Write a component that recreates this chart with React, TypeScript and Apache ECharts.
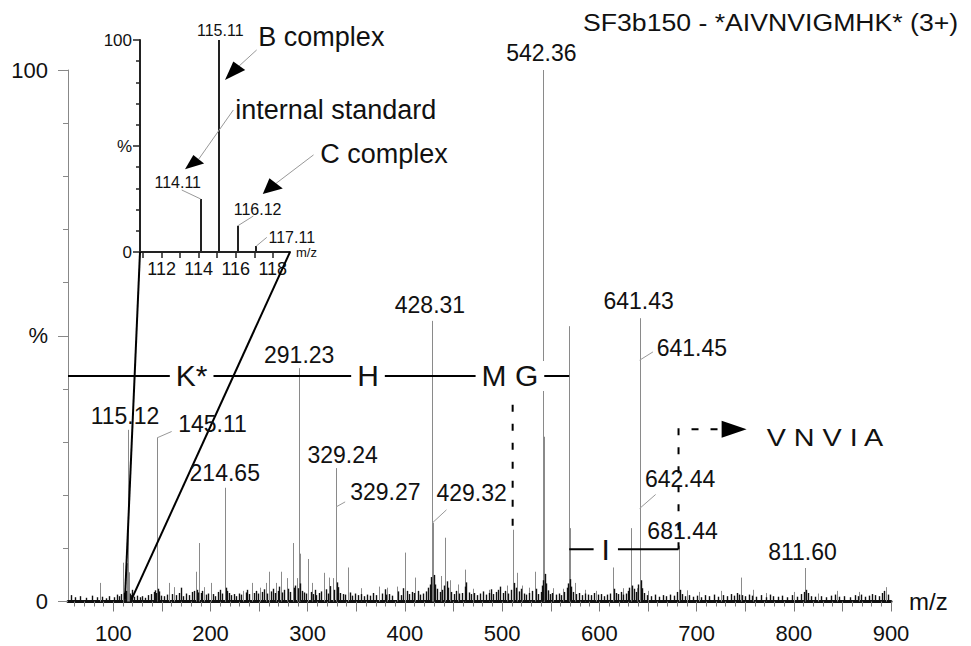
import React, { useEffect, useRef } from "react";
import * as echarts from "echarts";

const TITLE = "SF3b150 - *AIVNVIGMHK* (3+)";
const X_TICK_LABELS = [100, 200, 300, 400, 500, 600, 700, 800, 900];
const X_MID_TICKS = [150, 250, 350, 450, 550, 650, 750, 850];
const INSET_X_TICK_LABELS = [112, 114, 116, 118];
const INSET_X_TICKS = [111, 112, 113, 114, 115, 116, 117, 118];

// labelled fragment peaks [m/z, intensity %]
const labeledPeaks: [number, number][] = [
  [115.12, 32.3], [145.11, 30.8], [214.65, 21.4], [291.23, 43.9], [329.24, 25.1],
  [428.31, 52.8], [542.36, 100], [641.43, 53.3], [681.44, 10.5], [811.6, 6.3],
];

// other visible peaks [m/z, intensity %]
const otherPeaks: [number, number][] = [
  [86.4, 3.5], [110.3, 7.3], [114.11, 7.2], [116.12, 5.5], [157.6, 3.5], [162.7, 2.7],
  [185.0, 5.6], [188.5, 11], [193.3, 2.7], [200.5, 3.5], [215.2, 7.3], [233.7, 2.0],
  [242.3, 3.5], [250.9, 2.6], [256.7, 3.5], [260.5, 5.6], [267.4, 3.5], [272.2, 5.6],
  [278.4, 4.4], [284.5, 11], [289.3, 4.4], [291.6, 9], [300.6, 8], [304.0, 3.5],
  [317.0, 5.4], [322.0, 4.5], [326.3, 4.4], [341.7, 6.4], [355, 2.5], [373.6, 2.8],
  [382, 2.6], [391.5, 2.8], [400.0, 9.2], [410.3, 4.5], [428.9, 14.8], [437.4, 4.8],
  [441.5, 12], [446, 4], [455, 3.2], [461.8, 6], [470, 2.4], [486, 2.2], [505, 3],
  [510.8, 13.5], [515.0, 5.4], [520, 3], [528, 2.6], [533.8, 5.6], [542.7, 31],
  [543.1, 20], [552.6, 2.5], [563, 2.4], [569.0, 51.8], [569.4, 13.8], [575, 3.5],
  [585, 2.2], [596.5, 2], [613.7, 6.4], [624, 2.5], [632.8, 13.8], [638.4, 2.5],
  [642.1, 17.5], [650, 2], [690, 2.1], [702, 1.8], [725, 2], [745.3, 4.5], [758, 2.2],
  [771, 1.6], [800, 1.8], [825, 1.5], [844.0, 2], [867, 1.8], [894.8, 2.7],
];

// baseline noise [m/z, intensity %]
const noisePeaks: [number, number][] = [
  [57, 1.2], [61, 0.8], [66, 1.0], [72, 0.7], [78, 1.1], [83, 0.8], [88, 0.9], [92, 0.6],
  [96, 1.0], [101, 0.8], [104, 1.3], [106, 1.0], [108, 1.4], [111, 1.6], [112, 1.8],
  [113, 2.0], [117, 1.5], [118, 1.2], [119, 2.2], [121, 0.9], [124, 1.1], [127, 0.8],
  [130, 1.0], [133, 0.7], [136, 1.2], [139, 1.4], [142, 1.8], [143, 2.1], [144, 1.6],
  [146, 2.4], [147, 1.9], [149, 1.1], [152, 1.0], [155, 1.3], [160, 1.4], [165, 1.2],
  [168, 1.6], [170, 2.6], [172, 1.0], [175, 1.5], [178, 1.2], [181, 1.8], [183, 2.0],
  [186, 2.2], [187, 1.7], [190, 1.6], [191, 2.0], [195, 1.3], [197, 1.5], [203, 1.4],
  [205, 1.0], [208, 1.8], [210, 2.2], [212, 1.5], [216, 2.6], [217, 2.0], [219, 1.6],
  [221, 1.2], [224, 1.4], [226, 1.0], [229, 1.5], [231, 1.3], [236, 1.7], [238, 2.2],
  [240, 1.4], [245, 1.6], [247, 2.0], [249, 1.5], [253, 1.8], [255, 2.3], [258, 1.5],
  [262, 1.9], [264, 2.4], [266, 1.6], [269, 2.0], [270, 2.8], [274, 1.7], [276, 2.2],
  [280, 2.4], [282, 1.8], [286, 2.6], [287, 3.0], [290, 2.5], [292, 3.4], [294, 2.0],
  [296, 1.7], [298, 1.5], [303, 1.8], [305, 1.4], [307, 2.2], [309, 1.2], [312, 1.6],
  [314, 1.9], [319, 2.3], [321, 1.5], [323, 2.9], [327, 2.2], [330, 3.6], [331, 2.7],
  [333, 1.6], [336, 1.4], [338, 1.3], [344, 1.7], [346, 1.1], [349, 1.5], [352, 1.2],
  [355, 1.4], [358, 1.0], [361, 1.3], [364, 1.1], [367, 1.6], [370, 1.2], [376, 1.5],
  [379, 2.3], [381, 1.3], [384, 1.4], [387, 1.1], [393, 1.9], [396, 1.2], [398, 2.5],
  [402, 2.0], [404, 1.4], [407, 1.8], [409, 1.6], [413, 2.0], [416, 1.3], [419, 1.5],
  [422, 1.9], [424, 2.6], [426, 3.2], [427, 4.6], [430, 5.0], [431, 3.2], [433, 2.4],
  [436, 1.8], [438, 2.2], [440, 3.0], [443, 3.8], [444, 2.6], [447, 1.8], [450, 1.4],
  [453, 2.0], [456, 1.5], [459, 1.6], [462, 2.8], [463, 3.6], [466, 1.7], [468, 1.4],
  [471, 1.6], [474, 1.2], [477, 1.5], [480, 1.9], [483, 1.3], [486, 1.6], [489, 2.3],
  [491, 1.4], [494, 1.8], [496, 2.2], [498, 2.8], [501, 1.6], [503, 2.0], [506, 1.5],
  [509, 2.2], [512, 3.5], [514, 2.6], [517, 1.9], [519, 2.4], [522, 1.5], [525, 1.3],
  [528, 1.6], [531, 2.0], [535, 2.4], [537, 1.4], [540, 1.8], [541, 3.0], [542, 4.0],
  [544, 5.2], [545, 3.4], [547, 2.1], [549, 1.4], [551, 1.6], [555, 1.3], [558, 1.5],
  [561, 1.2], [564, 1.8], [567, 2.6], [568, 3.4], [570, 4.2], [571, 2.8], [573, 1.8],
  [576, 1.4], [579, 1.6], [582, 1.2], [585, 1.5], [588, 1.3], [591, 1.2], [594, 1.6],
  [599, 1.3], [602, 1.4], [605, 1.0], [608, 1.3], [611, 1.5], [615, 2.4], [617, 1.6],
  [619, 1.4], [622, 1.8], [624, 1.3], [627, 1.5], [629, 2.0], [631, 2.6], [634, 3.0],
  [636, 2.4], [638, 1.8], [640, 3.2], [643, 4.0], [644, 2.5], [646, 1.6], [649, 1.2],
  [653, 1.0], [657, 1.3], [661, 0.9], [665, 1.2], [669, 1.0], [673, 1.3], [677, 1.1],
  [680, 1.8], [683, 2.2], [685, 1.4], [688, 1.0], [692, 1.2], [696, 0.9], [700, 1.1],
  [705, 0.8], [709, 1.2], [713, 1.0], [718, 1.3], [722, 0.9], [727, 1.2], [731, 1.0],
  [735, 1.4], [738, 1.1], [742, 1.6], [744, 1.3], [747, 1.2], [750, 1.0], [754, 1.3],
  [757, 1.1], [761, 0.9], [766, 1.2], [771, 0.8], [776, 1.3], [779, 1.0], [784, 0.9],
  [788, 1.1], [793, 0.8], [798, 1.2], [803, 0.9], [807, 1.4], [810, 1.8], [813, 2.2],
  [815, 1.6], [818, 1.0], [822, 0.9], [828, 1.0], [833, 0.8], [838, 1.1], [842, 1.3],
  [847, 0.9], [852, 1.0], [858, 0.8], [863, 1.2], [866, 1.0], [869, 1.3], [873, 0.9],
  [877, 1.1], [880, 1.4], [884, 1.2], [888, 1.0], [891, 1.6], [893, 2.0], [897, 1.3],
];

// inset (reporter ion region) [m/z, intensity %]
const insetPeaks: [number, number][] = [
  [114.11, 25], [115.11, 100], [116.12, 12.4], [117.11, 2.8],
];

const FONT = '"Liberation Sans", Arial, Helvetica, sans-serif';

type Pt = number[];

export default function App() {
  const ref = useRef<HTMLDivElement>(null);

  useEffect(() => {
    if (!ref.current) return;
    const chart = echarts.init(ref.current, null, { renderer: "svg" });

    const stick = (data: [number, number][], color: string, width: number, xi: number, yi: number, z = 2) => ({
      type: "custom",
      xAxisIndex: xi,
      yAxisIndex: yi,
      data,
      silent: true,
      z,
      encode: { x: 0, y: 1 },
      renderItem: (_p: any, api: any) => {
        const x = api.value(0);
        const h = api.value(1);
        const a = api.coord([x, 0]);
        const b = api.coord([x, h]);
        const px = Math.round(a[0]) + (Math.round(width) % 2 ? 0.5 : 0);
        return {
          type: "line",
          shape: { x1: px, y1: a[1], x2: px, y2: b[1] },
          style: { stroke: color, lineWidth: width },
        };
      },
    });

    const option: any = {
      animation: false,
      backgroundColor: "#ffffff",
      textStyle: { fontFamily: FONT },
      grid: [
        { left: 68, right: 80, top: 70, bottom: 44.5 },
        { left: 140, top: 40, width: 150, height: 212 },
      ],
      xAxis: [
        {
          type: "value", gridIndex: 0, min: 53.4, max: 900, position: "bottom",
          axisLine: { lineStyle: { color: "#111", width: 3 } },
          axisTick: { customValues: [...X_TICK_LABELS, ...X_MID_TICKS], length: 10, lineStyle: { color: "#777", width: 1 } },
          axisLabel: { customValues: X_TICK_LABELS, fontSize: 22, color: "#111", margin: 21, fontFamily: FONT },
          splitLine: { show: false },
          name: "m/z", nameLocation: "end", nameGap: 18,
          nameTextStyle: { fontSize: 24, color: "#111", fontFamily: FONT },
        },
        {
          type: "value", gridIndex: 0, min: 53.4, max: 900, position: "bottom",
          axisLine: { show: false },
          axisTick: {
            customValues: [60, 70, 80, 90, 110, 120, 130, 140, 160, 170, 180, 190, 210, 220, 230, 240, 260, 270, 280, 290,
              310, 320, 330, 340, 360, 370, 380, 390, 410, 420, 430, 440, 460, 470, 480, 490, 510, 520, 530, 540,
              560, 570, 580, 590, 610, 620, 630, 640, 660, 670, 680, 690, 710, 720, 730, 740, 760, 770, 780, 790,
              810, 820, 830, 840, 860, 870, 880, 890],
            length: 5, lineStyle: { color: "#777", width: 1 },
          },
          axisLabel: { show: false },
          splitLine: { show: false },
        },
        {
          type: "value", gridIndex: 1, min: 110.83, max: 118.93,
          axisLine: { lineStyle: { color: "#222", width: 2 } },
          axisTick: { customValues: INSET_X_TICKS, length: 6, lineStyle: { color: "#222", width: 1.5 } },
          axisLabel: { customValues: INSET_X_TICK_LABELS, fontSize: 18, color: "#111", margin: 8, fontFamily: FONT },
          splitLine: { show: false },
          name: "m/z", nameLocation: "end", nameGap: 6,
          nameTextStyle: { fontSize: 13, color: "#111", fontFamily: FONT, verticalAlign: "middle" },
        },
      ],
      yAxis: [
        {
          type: "value", gridIndex: 0, min: 0, max: 100, interval: 50,
          axisLine: { show: true, lineStyle: { color: "#888", width: 1 } },
          axisTick: { show: true, length: 10, lineStyle: { color: "#888" } },
          minorTick: { show: true, splitNumber: 5, length: 5, lineStyle: { color: "#888" } },
          axisLabel: {
            fontSize: 22, color: "#111", margin: 20, fontFamily: FONT,
            formatter: (v: number) => (v === 50 ? "%" : String(v)),
          },
          splitLine: { show: false },
          minorSplitLine: { show: false },
        },
        {
          type: "value", gridIndex: 1, min: 0, max: 100, interval: 50,
          axisLine: { show: true, lineStyle: { color: "#222", width: 2 } },
          axisTick: { show: true, length: 7, lineStyle: { color: "#222", width: 1.5 } },
          minorTick: { show: true, splitNumber: 5, length: 4, lineStyle: { color: "#222", width: 1.5 } },
          axisLabel: {
            fontSize: 17, color: "#111", margin: 8, fontFamily: FONT,
            formatter: (v: number) => (v === 50 ? "%" : String(v)),
          },
          splitLine: { show: false },
          minorSplitLine: { show: false },
        },
      ],
      series: [
        stick([...labeledPeaks, ...otherPeaks], "#8a8a8a", 1, 0, 0, 2),
        stick(noisePeaks, "#111", 1.4, 0, 0, 3),
        stick(insetPeaks, "#222", 2, 2, 1, 4),
      ],
    };
    chart.setOption(option);

    const P = (mz: number, h: number): Pt => chart.convertToPixel({ gridIndex: 0 }, [mz, h]) as Pt;
    const Q = (mz: number, h: number): Pt => chart.convertToPixel({ gridIndex: 1 }, [mz, h]) as Pt;

    const els: any[] = [];
    const txt = (text: string, x: number, y: number, size: number, align = "center", extra: any = {}, sx = 1) => {
      els.push({
        type: "text", x, y, scaleX: sx, z: 100,
        style: {
          text, fontSize: size, fontFamily: FONT, fill: "#111",
          align, verticalAlign: "middle", textAlign: align, textVerticalAlign: "middle",
          ...extra,
        },
      });
    };
    const ln = (a: Pt, b: Pt, color: string, w: number, dash?: number[]) => {
      els.push({
        type: "line", z: 90,
        shape: { x1: a[0], y1: a[1], x2: b[0], y2: b[1] },
        style: { stroke: color, lineWidth: w, lineDash: dash },
      });
    };
    const tri = (pts: Pt[]) => {
      els.push({ type: "polygon", z: 95, shape: { points: pts }, style: { fill: "#000" } });
    };

    // title
    txt(TITLE, 583, 22, 24, "left", {}, 1.11);

    // direct peak labels
    const direct: { text: string; at: [number, number]; dx: number; dy: number }[] = [
      { text: "542.36", at: [542.36, 100], dx: -2, dy: -17 },
      { text: "428.31", at: [428.31, 52.8], dx: -2.5, dy: -16 },
      { text: "641.43", at: [641.43, 53.3], dx: -1, dy: -17 },
      { text: "291.23", at: [291.23, 43.9], dx: 0, dy: -13 },
      { text: "214.65", at: [214.65, 21.4], dx: 0, dy: -15 },
      { text: "115.12", at: [115.12, 32.3], dx: -3, dy: -14 },
      { text: "681.44", at: [681.44, 10.5], dx: 4, dy: -15 },
      { text: "811.60", at: [811.6, 6.3], dx: -2.6, dy: -16 },
      { text: "329.24", at: [329.24, 25.1], dx: 6.4, dy: -13 },
    ];
    direct.forEach((d) => {
      const p = P(d.at[0], d.at[1]);
      txt(d.text, p[0] + d.dx, p[1] + d.dy, 23);
    });

    // labels with leader lines (text left-aligned)
    const leader: { text: string; at: [number, number]; lx: number; ly: number; tx: number; ty: number }[] = [
      { text: "329.27", at: [329.24, 17.8], lx: 9, ly: -5, tx: 14, ty: -14.5 },
      { text: "429.32", at: [428.31, 14.8], lx: 14, ly: -13, tx: 4, ty: -30 },
      { text: "145.11", at: [145.11, 30.8], lx: 14.5, ly: -6.3, tx: 21, ty: -14 },
      { text: "641.45", at: [641.43, 45.4], lx: 13.3, ly: -8.3, tx: 17, ty: -12 },
      { text: "642.44", at: [641.43, 17.5], lx: 16, ly: -14, tx: 5.3, ty: -29.6 },
    ];
    leader.forEach((d) => {
      const p = P(d.at[0], d.at[1]);
      ln(p, [p[0] + d.lx, p[1] + d.ly], "#999", 1);
      txt(d.text, p[0] + d.tx, p[1] + d.ty, 23, "left");
    });

    // inset labels
    const insetLab: { text: string; at: [number, number]; lx: number; ly: number; tx: number; ty: number }[] = [
      { text: "115.11", at: [115.11, 100], lx: 0, ly: 0, tx: 1, ty: -10 },
      { text: "114.11", at: [114.11, 25], lx: -19, ly: -9, tx: -23, ty: -16.5 },
      { text: "116.12", at: [116.12, 12.4], lx: 15.4, ly: -9.7, tx: 19.6, ty: -16.7 },
      { text: "117.11", at: [117.11, 2.8], lx: 10.5, ly: -8.7, tx: 35.5, ty: -8.5 },
    ];
    insetLab.forEach((d) => {
      const p = Q(d.at[0], d.at[1]);
      if (d.lx || d.ly) ln(p, [p[0] + d.lx, p[1] + d.ly], "#999", 1);
      txt(d.text, p[0] + d.tx, p[1] + d.ty, 16);
    });

    // inset arrows (inset data coordinates)
    const arrows: { text: string; t: [number, number]; s: [number, number]; tip: [number, number]; c1: [number, number]; c2: [number, number] }[] = [
      { text: "B complex", t: [117.22, 101.4], s: [117.13, 95.3], tip: [115.42, 81.1], c1: [115.87, 89.8], c2: [116.51, 85.8] },
      { text: "internal standard", t: [115.97, 67], s: [115.87, 67], tip: [113.26, 39], c1: [113.71, 45.8], c2: [114.29, 41.8] },
      { text: "C complex", t: [120.56, 46.2], s: [120.2, 45.8], tip: [117.46, 27.4], c1: [117.82, 34.8], c2: [118.54, 30.0] },
    ];
    arrows.forEach((a) => {
      const tp = Q(a.t[0], a.t[1]);
      txt(a.text, tp[0], tp[1], 27, "left");
      const c1 = Q(a.c1[0], a.c1[1]);
      const c2 = Q(a.c2[0], a.c2[1]);
      const mid = [(c1[0] + c2[0]) / 2, (c1[1] + c2[1]) / 2];
      ln(Q(a.s[0], a.s[1]), mid, "#999", 1);
      tri([Q(a.tip[0], a.tip[1]), c1, c2]);
    });

    // zoom connection lines
    ln(Q(110.83, 0), P(112, 0.5), "#000", 2);
    ln(Q(118.93, 0), P(119, 0.5), "#000", 2);

    // sequence annotation (top row)
    const seqY = 42.43;
    ln(P(53.4, seqY), P(569.0, seqY), "#000", 2);
    const seqTop: { text: string; mz: number }[] = [
      { text: "K*", mz: 180.6 },
      { text: "H", mz: 362.0 },
      { text: "M G", mz: 508.0 },
    ];
    seqTop.forEach((s) => {
      const p = P(s.mz, seqY);
      txt(s.text, p[0], p[1], 30, "center", { backgroundColor: "#fff", padding: [0, 6] });
    });
    // dashed marker at 510.8
    ln(P(510.8, 37.0), P(510.8, 13.5), "#000", 2, [7, 12]);

    // lower sequence row
    const seqY2 = 9.82;
    ln(P(569.0, seqY2), P(681.44, seqY2), "#000", 2);
    const pI = P(606.6, seqY2);
    txt("I", pI[0], pI[1], 30, "center", { backgroundColor: "#fff", padding: [0, 8] });

    // dashed continuation to VNVIA
    const arrowY = 32.4;
    const d0 = P(681.44, seqY2);
    const d1 = P(681.44, arrowY);
    const d2 = P(726, arrowY);
    els.push({
      type: "polyline", z: 90,
      shape: { points: [d0, d1, d2] },
      style: { stroke: "#000", lineWidth: 2, lineDash: [7, 12], fill: null },
    });
    const tipP = P(751.5, arrowY);
    const baseP = P(725.8, arrowY);
    tri([tipP, [baseP[0], baseP[1] - 8.5], [baseP[0], baseP[1] + 8.5]]);
    const vP = P(772.1, 30.8);
    txt("V N V I A", vP[0], vP[1], 23, "left", {}, 1.25);

    chart.setOption({ graphic: { elements: els } });

    return () => chart.dispose();
  }, []);

  return (
    <div
      ref={ref}
      style={{ position: "fixed", left: 0, top: 0, width: 971, height: 646, background: "#fff" }}
    />
  );
}
